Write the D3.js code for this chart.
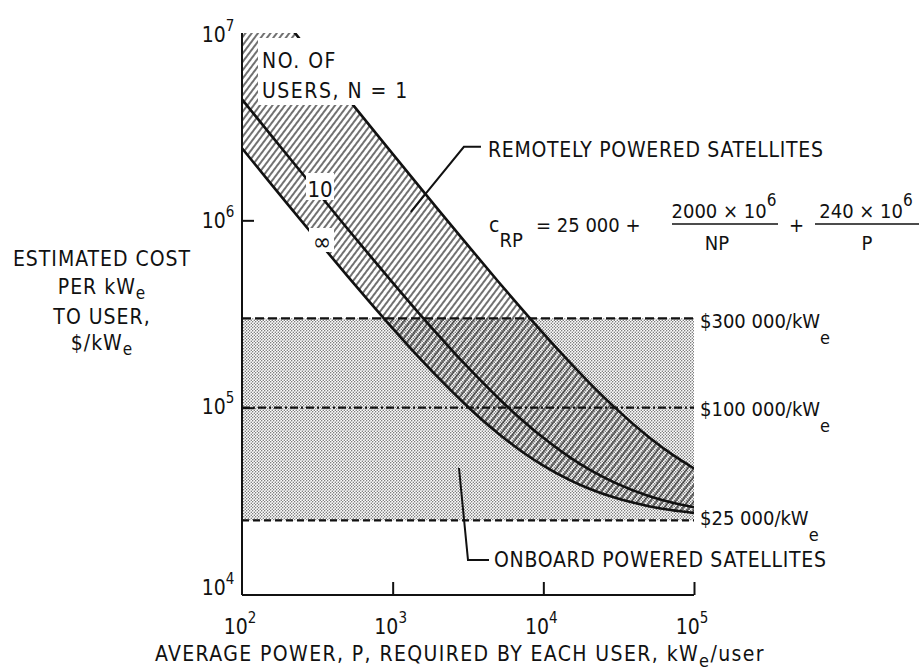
<!DOCTYPE html>
<html>
<head>
<meta charset="utf-8">
<script src="https://cdn.jsdelivr.net/npm/d3@7"></script>
<style>
  html, body { margin: 0; padding: 0; background: #fff; }
  svg { display: block; }
  text { font-family: "DejaVu Sans Condensed", "Liberation Sans Narrow", sans-serif; fill: #111; }
</style>
</head>
<body>
<svg id="chart" width="923" height="671"></svg>
<script>
// power per user, kWe/user
const power = [100, 150, 200, 300, 500, 700, 1000, 1500, 2000, 3000, 5000, 7000, 10000, 15000, 20000, 30000, 50000, 70000, 100000];
// cost per kWe, remotely powered, N = 1 / 10 / infinity
const costN1 = [22425000, 14958000, 11225000, 7492000, 4505000, 3225000, 2265000, 1518000, 1145000, 771700, 473000, 345000, 249000, 174300, 137000, 99700, 69800, 57000, 47400];
const costN10 = [4425000, 2958000, 2225000, 1492000, 905000, 653600, 465000, 318000, 245000, 171700, 113000, 87900, 69000, 54300, 47000, 39700, 33800, 31300, 29400];
const costNInf = [2425000, 1625000, 1225000, 825000, 505000, 368000, 265000, 185000, 145000, 105000, 73000, 59300, 49000, 41000, 37000, 33000, 29800, 28400, 27400];

// onboard powered reference levels
const onboardCosts = [300000, 100000, 25000];
const onboardLabels = ["$300 000/kW", "$100 000/kW", "$25 000/kW"];
const onboardDash = ["9,4", "8,3,2,3", "7,4"];

const xTicks = [100, 1000, 10000, 100000];
const xTickExp = ["2", "3", "4", "5"];
const yTicks = [10000, 100000, 1000000, 10000000];
const yTickExp = ["4", "5", "6", "7"];

const M = { left: 242, right: 694, top: 33, bottom: 595 };
const x = d3.scaleLog().domain([1e2, 1e5]).range([M.left, M.right]);
const y = d3.scaleLog().domain([1e4, 1e7]).range([M.bottom, M.top]);

const svg = d3.select("#chart");
const defs = svg.append("defs");

const dots = defs.append("pattern")
  .attr("id", "stipple").attr("patternUnits", "userSpaceOnUse")
  .attr("width", 3).attr("height", 3);
dots.append("rect").attr("width", 3).attr("height", 3).attr("fill", "#fff");
dots.append("circle").attr("cx", 0.75).attr("cy", 0.75).attr("r", 0.65).attr("fill", "#555");
dots.append("circle").attr("cx", 2.25).attr("cy", 2.25).attr("r", 0.65).attr("fill", "#555");

const hatch = defs.append("pattern")
  .attr("id", "hatch").attr("patternUnits", "userSpaceOnUse")
  .attr("width", 5).attr("height", 10)
  .attr("patternTransform", "rotate(37)");
hatch.append("line")
  .attr("x1", 1).attr("x2", 1).attr("y1", 0).attr("y2", 10)
  .attr("stroke", "#111").attr("stroke-width", 1.2);

defs.append("clipPath").attr("id", "plot")
  .append("rect")
  .attr("x", M.left).attr("y", M.top)
  .attr("width", M.right - M.left).attr("height", M.bottom - M.top);

// stippled onboard region
svg.append("rect")
  .attr("x", M.left).attr("y", y(onboardCosts[0]))
  .attr("width", M.right - M.left)
  .attr("height", y(onboardCosts[2]) - y(onboardCosts[0]))
  .attr("fill", "url(#stipple)");

const g = svg.append("g").attr("clip-path", "url(#plot)");

const band = power.map((p, i) => ({ p, hi: costN1[i], lo: costNInf[i] }));
g.append("path")
  .datum(band)
  .attr("fill", "url(#hatch)")
  .attr("d", d3.area()
    .x(d => x(d.p)).y0(d => y(d.lo)).y1(d => y(d.hi))
    .curve(d3.curveMonotoneX));

// dashed reference levels
svg.selectAll(".level")
  .data(onboardCosts)
  .join("line")
  .attr("class", "level")
  .attr("x1", M.left).attr("x2", M.right)
  .attr("y1", d => y(d)).attr("y2", d => y(d))
  .attr("stroke", "#111").attr("stroke-width", 2.2)
  .attr("stroke-dasharray", (d, i) => onboardDash[i]);

const line = d3.line().x((d, i) => x(power[i])).y(d => y(d)).curve(d3.curveMonotoneX);
g.selectAll(".curve")
  .data([costN1, costN10, costNInf])
  .join("path")
  .attr("class", "curve")
  .attr("fill", "none").attr("stroke", "#111").attr("stroke-width", 2.6)
  .attr("d", line);

// white label patches
svg.append("rect").attr("x", M.left + 16).attr("y", 38).attr("width", 103).attr("height", 67).attr("fill", "#fff");
svg.append("rect").attr("x", 306).attr("y", 173).attr("width", 28).attr("height", 27).attr("fill", "#fff");
svg.append("rect").attr("x", 309).attr("y", 228).attr("width", 25).attr("height", 24).attr("fill", "#fff");

// axes
svg.append("g")
  .attr("transform", `translate(${M.left},0)`)
  .call(d3.axisLeft(y).tickValues([1e5, 1e6]).tickSize(-12).tickFormat(""))
  .call(ax => ax.select(".domain").attr("d", `M0,${M.bottom}V${M.top}`));
svg.append("g")
  .attr("transform", `translate(0,${M.bottom})`)
  .call(d3.axisBottom(x).tickValues([1e3, 1e4, 1e5]).tickSize(-13).tickFormat(""))
  .call(ax => ax.select(".domain").attr("d", `M${M.left},0H${M.right}`));
svg.selectAll(".domain, .tick line").attr("stroke", "#111").attr("stroke-width", 2);

function power10(sel, exp) {
  sel.append("tspan").text("10");
  sel.append("tspan").attr("dy", -11).attr("font-size", 15).text(exp);
}

const yLabelDy = [0, 6, 8, 9];
yTicks.forEach((v, i) => {
  svg.append("text")
    .attr("x", M.left - 24).attr("y", y(v) + yLabelDy[i])
    .attr("text-anchor", "middle").attr("font-size", 21)
    .call(power10, yTickExp[i]);
});
xTicks.forEach((v, i) => {
  svg.append("text")
    .attr("x", x(v) - 2).attr("y", 634)
    .attr("text-anchor", "middle").attr("font-size", 21)
    .call(power10, xTickExp[i]);
});

// axis titles
const yTitle = [["ESTIMATED COST", ""], ["PER kW", "e"], ["TO USER,", ""], ["$/kW", "e"]];
const yTitleY = [266, 294, 324, 350];
yTitle.forEach(([t, sub], i) => {
  const tx = svg.append("text").attr("x", 102).attr("y", yTitleY[i])
    .attr("text-anchor", "middle").attr("font-size", 21).attr("letter-spacing", 1);
  tx.append("tspan").text(t);
  if (sub) tx.append("tspan").attr("dy", 5).attr("font-size", 17).text(sub);
});

const xTitle = svg.append("text").attr("x", 460).attr("y", 661)
  .attr("text-anchor", "middle").attr("font-size", 21).attr("letter-spacing", 1.4);
xTitle.append("tspan").text("AVERAGE POWER, P, REQUIRED BY EACH USER, kW");
xTitle.append("tspan").attr("dy", 6).attr("font-size", 18).text("e");
xTitle.append("tspan").attr("dy", -6).text("/user");

// level labels
const levelDy = [10, 8, 5];
onboardCosts.forEach((v, i) => {
  const t = svg.append("text").attr("x", M.right + 6).attr("y", y(v) + levelDy[i]).attr("font-size", 20);
  t.append("tspan").text(onboardLabels[i]);
  t.append("tspan").attr("dy", 16).attr("font-size", 18).text("e");
});

// curve labels
const n1 = svg.append("text").attr("font-size", 21).attr("letter-spacing", 1.5);
n1.append("tspan").attr("x", 262).attr("y", 68).text("NO. OF");
n1.append("tspan").attr("x", 262).attr("y", 98).text("USERS, N = 1");
svg.append("text").attr("x", 320).attr("y", 197).attr("text-anchor", "middle").attr("font-size", 22).text("10");
svg.append("text").attr("x", 322).attr("y", 250).attr("text-anchor", "middle").attr("font-size", 24).text("∞");

// remote label + leader
svg.append("path")
  .attr("d", `M${x(1320)},${y(1.11e6)}L${x(2970)},${y(2.47e6)}H${x(3855)}`)
  .attr("fill", "none").attr("stroke", "#111").attr("stroke-width", 2);
svg.append("text").attr("x", 488).attr("y", 157).attr("font-size", 21).attr("letter-spacing", 0.7)
  .text("REMOTELY POWERED SATELLITES");

// onboard label + leader
svg.append("path")
  .attr("d", `M459,468L468,560H489`)
  .attr("fill", "none").attr("stroke", "#111").attr("stroke-width", 2);
svg.append("text").attr("x", 494).attr("y", 567).attr("font-size", 21).attr("letter-spacing", 0.7)
  .text("ONBOARD POWERED SATELLITES");

// equation
const eq = svg.append("g");
const c = eq.append("text").attr("x", 489).attr("y", 232).attr("font-size", 21);
c.append("tspan").text("c");
c.append("tspan").attr("dy", 15).attr("font-size", 20).text("RP");
eq.append("text").attr("x", 536).attr("y", 232).attr("font-size", 20).text("=  25 000  +");
const num1 = eq.append("text").attr("x", 724).attr("y", 218).attr("text-anchor", "middle").attr("font-size", 20);
num1.append("tspan").text("2000 × 10");
num1.append("tspan").attr("dy", -12).attr("font-size", 17).text("6");
eq.append("text").attr("x", 717).attr("y", 250).attr("text-anchor", "middle").attr("font-size", 20).text("NP");
eq.append("line").attr("x1", 672).attr("x2", 778).attr("y1", 224).attr("y2", 224).attr("stroke", "#111").attr("stroke-width", 1.6);
eq.append("text").attr("x", 789).attr("y", 232).attr("font-size", 20).text("+");
const num2 = eq.append("text").attr("x", 866).attr("y", 218).attr("text-anchor", "middle").attr("font-size", 20);
num2.append("tspan").text("240 × 10");
num2.append("tspan").attr("dy", -12).attr("font-size", 17).text("6");
eq.append("text").attr("x", 867).attr("y", 250).attr("text-anchor", "middle").attr("font-size", 20).text("P");
eq.append("line").attr("x1", 815).attr("x2", 919).attr("y1", 224).attr("y2", 224).attr("stroke", "#111").attr("stroke-width", 1.6);
</script>
</body>
</html>
